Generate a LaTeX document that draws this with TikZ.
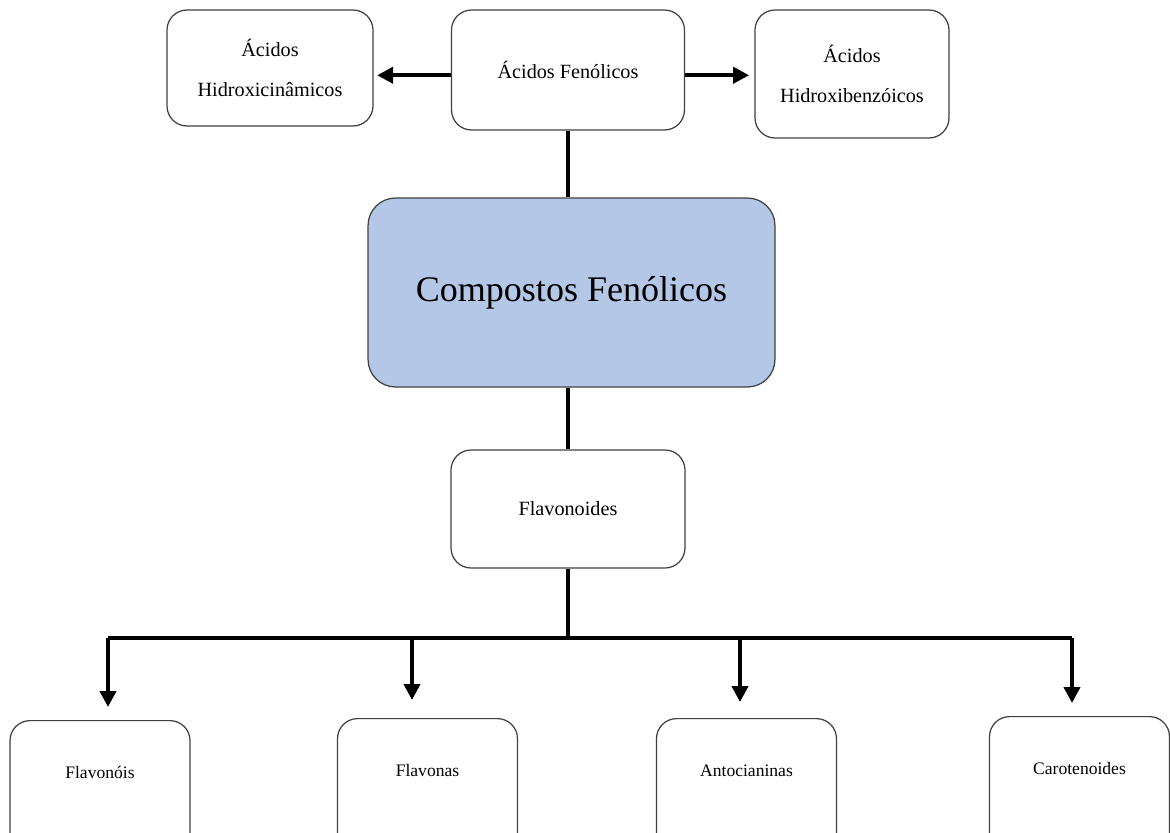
\documentclass[tikz,border=0pt]{standalone}
\usepackage{fontspec}
\setmainfont{Liberation Serif}
\usetikzlibrary{positioning,arrows.meta}
\definecolor{mainblue}{HTML}{B4C7E7}
\tikzset{
  linkarrow/.style={-{Triangle[length=3.2mm, width=3.2mm]}, line width=2.2pt},
  linkline/.style={line width=2.2pt},
  groupbox/.style={draw=black!75, line width=0.7pt, rounded corners=0.4cm, fill=white, align=center, font=\fontsize{11.5}{23}\selectfont},
  mainbox/.style={draw=black!75, line width=0.7pt, rounded corners=0.55cm, fill=mainblue, minimum width=8.14cm, minimum height=3.78cm, font=\fontsize{20.5}{24}\selectfont},
  classbox/.style={draw=black!75, line width=0.7pt, rounded corners=0.4cm, fill=white, anchor=north, minimum width=3.6cm, minimum height=3.2cm, text height=0.25cm, text depth=1.13cm, font=\fontsize{10}{12}\selectfont}
}

\begin{document}
\begin{tikzpicture}[x=0.02cm, y=-0.02cm]
      \useasboundingbox (0,0) rectangle (1170,832);
      \clip (0,0) rectangle (1170,832);
      % top row
      \node[groupbox, minimum width=4.12cm, minimum height=2.32cm] (hc) at (270,68) {Ácidos\\Hidroxicinâmicos};
      \node[groupbox, minimum width=4.66cm, minimum height=2.4cm] (af) at (568,70) {Ácidos Fenólicos};
      \node[groupbox, minimum width=3.88cm, minimum height=2.56cm] (hb) at (852,74) {Ácidos\\Hidroxibenzóicos};
      \node[mainbox] (cf) at (571.5,292.5) {Compostos Fenólicos};
      \node[groupbox, minimum width=4.68cm, minimum height=2.36cm] (fv) at (568,509) {Flavonoides};
      % bottom row
      \node[classbox] (fl) at (100,720) {Flavonóis};
      \node[classbox] (fn) at (427.5,718) {Flavonas};
      \node[classbox] (an) at (746.5,718) {Antocianinas};
      \node[classbox] (ca) at (1079.5,716) {Carotenoides};
      \coordinate (jc) at (568,638);
      \coordinate (j1) at (108,638);
      \coordinate (j2) at (412,638);
      \coordinate (j3) at (740,638);
      \coordinate (j4) at (1072,638);
      \coordinate (d1) at (108,707);
      \coordinate (d2) at (412,700);
      \coordinate (d3) at (740,702);
      \coordinate (d4) at (1072,703);
      \draw[linkarrow, shorten >=2pt] ([yshift=-3]af.west) -- ([yshift=-3]af.west -| hc.east);
      \draw[linkarrow, shorten >=3pt] ([yshift=-3]af.east) -- ([yshift=-3]af.east -| hb.west);
      \draw[linkline] (af) -- (af |- cf.north);
      \draw[linkline] (cf.south -| fv) -- (fv);
      \draw[linkline] (fv) -- (jc);
      \draw[linkline] (j1) -- (j4);
      \draw[linkarrow] (j1) -- (d1);
      \draw[linkarrow] (j2) -- (d2);
      \draw[linkarrow] (j3) -- (d3);
      \draw[linkarrow] (j4) -- (d4);
    \end{tikzpicture}
\end{document}
